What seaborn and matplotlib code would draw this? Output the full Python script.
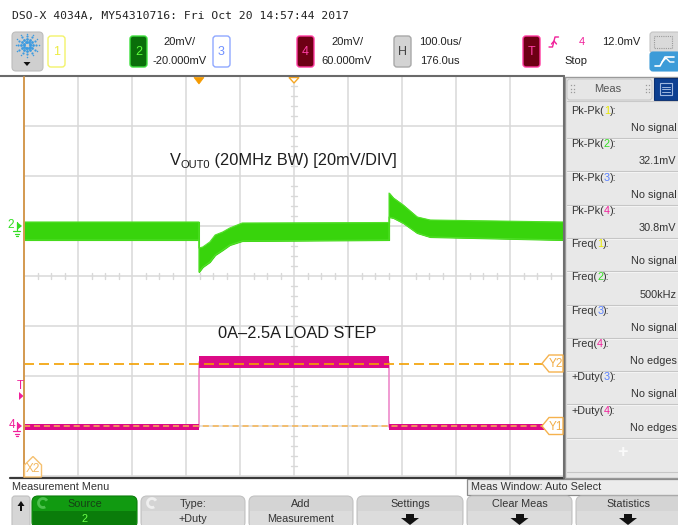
import matplotlib
matplotlib.use("Agg")
import matplotlib.pyplot as plt
from matplotlib.patches import Rectangle, FancyBboxPatch, Polygon, Arc
from matplotlib import font_manager
import numpy as np
import pandas as pd
import seaborn as sns

# ---------------- data ----------------
header_text = "DSO-X 4034A, MY54310716: Fri Oct 20 14:57:44 2017"

time_per_div_us = 100.0
delay_us = 176.0
ch2_scale_mv = 20.0
ch2_offset_mv = -20.0
ch4_scale_mv = 20.0
ch4_offset_mv = 60.0
trigger_level_mv = 12.0
cursor_y1_mv = 0.0
cursor_y2_mv = 25.0

# Channel 2 (VOUT, green) noise-band envelope
ch2_time_us = [-324, 0, 0, 7, 20, 30, 44, 57, 80, 352, 352, 360, 378, 404, 428, 676]
ch2_upper_mv = [1.6, 1.6, -8.8, -8.4, -6.4, -3.6, -2.4, -0.8, 1.2, 1.4, 13.2, 11.2, 8.4, 3.6, 2.4, 1.6]
ch2_lower_mv = [-5.6, -5.6, -18.4, -16.4, -14.4, -11.6, -9.6, -7.6, -6.0, -5.6, 3.6, 3.2, 1.2, -2.8, -4.4, -5.6]

# Channel 4 (load current step, magenta) band envelope
ch4_time_us = [-324, 0, 0, 352, 352, 676]
ch4_upper_mv = [0.8, 0.8, 28.0, 28.0, 0.8, 0.8]
ch4_lower_mv = [-1.6, -1.6, 23.2, 23.2, -1.6, -1.6]

trace_title = "(20MHz BW) [20mV/DIV]"
step_title = "0A\u20132.5A LOAD STEP"

meas_names = ["Pk-Pk", "Pk-Pk", "Pk-Pk", "Pk-Pk", "Freq", "Freq", "Freq", "Freq", "+Duty", "+Duty"]
meas_sources = ["1", "2", "3", "4", "1", "2", "3", "4", "3", "4"]
meas_values = ["No signal", "32.1mV", "No signal", "30.8mV", "No signal", "500kHz",
               "No signal", "No edges", "No signal", "No edges"]

softkey_top = ["Source", "Type:", "Add", "Settings", "Clear Meas", "Statistics"]
softkey_bottom = ["2", "+Duty", "Measurement", "", "", ""]

# ---------------- styling ----------------
sns.set_theme(style="white")
plt.rcParams['font.family'] = ['Liberation Sans', 'DejaVu Sans']
names = {f.name for f in font_manager.fontManager.ttflist}
NARROW = 'Liberation Sans Narrow' if 'Liberation Sans Narrow' in names else 'Liberation Sans'
big_size = 13.5 if NARROW == 'Liberation Sans Narrow' else 11.8

W, H = 678, 525
fig = plt.figure(figsize=(W / 100, H / 100), dpi=100)
fig.patch.set_facecolor('white')


def box(x0, y0, w, h):
    return [x0 / W, 1 - (y0 + h) / H, w / W, h / H]


ui = fig.add_axes([0, 0, 1, 1], zorder=0)
ui.set_xlim(0, W); ui.set_ylim(H, 0); ui.axis('off')
ax2 = fig.add_axes(box(24, 76, 540, 400), zorder=1)
ax4 = fig.add_axes(box(24, 76, 540, 400), zorder=2)
ov = fig.add_axes([0, 0, 1, 1], zorder=3)
ov.set_xlim(0, W); ov.set_ylim(H, 0); ov.axis('off')

xl = (delay_us - 5 * time_per_div_us, delay_us + 5 * time_per_div_us)
for a, off, sc in ((ax2, ch2_offset_mv, ch2_scale_mv), (ax4, ch4_offset_mv, ch4_scale_mv)):
    a.set_xlim(*xl)
    a.set_ylim(off - 4 * sc, off + 4 * sc)
    a.axis('off')
    a.set_facecolor('none')

SC = {'1': '#e8e800', '2': '#33dd22', '3': '#5a80ff', '4': '#f0209a'}
GRID = '#d9d9d9'

# graticule
for k in range(11):
    ax2.axvline(xl[0] + k * time_per_div_us, color=GRID, lw=1.1, zorder=0, clip_on=False)
for j in range(9):
    ax2.axhline(ch2_offset_mv - 4 * ch2_scale_mv + j * ch2_scale_mv, color=GRID, lw=1.1, zorder=0, clip_on=False)
# minor ticks on centre lines
tq = time_per_div_us / 4
for k in range(41):
    if k % 4:
        t = xl[0] + k * tq
        ax2.plot([t, t], [ch2_offset_mv - 1.3, ch2_offset_mv + 1.3], color=GRID, lw=1.0, zorder=0)
vq = ch2_scale_mv / 5
for j in range(-20, 21):
    if j % 5:
        v = ch2_offset_mv + j * vq
        ax2.plot([delay_us - 5.5, delay_us + 5.5], [v, v], color=GRID, lw=1.0, zorder=0)

# channel 4 trace (magenta)
ch4_mid = [(u + l) / 2 for u, l in zip(ch4_upper_mv, ch4_lower_mv)]
sns.lineplot(x=ch4_time_us, y=ch4_mid, ax=ax4, estimator=None, sort=False,
             color='#ec80c6', lw=1.1, zorder=2)
ax4.fill_between(ch4_time_us, ch4_lower_mv, ch4_upper_mv, color='#dc0a86', lw=0, zorder=3)

# channel 2 trace (green)
ax2.fill_between(ch2_time_us, ch2_lower_mv, ch2_upper_mv, color='#38d40c', lw=0.8, zorder=3)
sns.lineplot(x=ch2_time_us, y=ch2_upper_mv, ax=ax2, estimator=None, sort=False, color='#52e02a', lw=0.8, zorder=3)
sns.lineplot(x=ch2_time_us, y=ch2_lower_mv, ax=ax2, estimator=None, sort=False, color='#52e02a', lw=0.8, zorder=3)

# cursors
ax4.axhline(cursor_y2_mv, color='#f2a000', lw=1.2, ls=(0, (6, 3)), zorder=5)
ax4.axhline(cursor_y1_mv, color='#f8b450', lw=1.1, ls=(0, (4, 2.5)), zorder=5)


def ypix(a, v):
    return H - a.transData.transform((xl[0], v))[1]


def xpix(a, t):
    return a.transData.transform((t, 0))[0]


# frame lines
ov.plot([0, 563.5], [76, 76], color='#6a6a6a', lw=1.5)
ov.plot([10, 563.5], [477.5, 477.5], color='#3a3a3a', lw=1.6)
ov.plot([563.5, 563.5], [76, 478], color='#707070', lw=1.5)
ov.plot([24, 24], [77, 477], color='#d49a50', lw=1.4)

# top time markers
tx = xpix(ax2, 0)
ov.add_patch(Polygon([(tx - 5, 77.5), (tx + 5, 77.5), (tx, 84)], closed=True, fc='#f59a00', ec='#f59a00', lw=0.5))
cx = xpix(ax2, delay_us)
ov.add_patch(Polygon([(cx - 5, 77.5), (cx + 5, 77.5), (cx, 83)], closed=True, fc='white', ec='#f5a623', lw=1.0))

# left channel markers
y2g = ypix(ax2, 0)
ov.text(11, y2g - 1, "2", color=SC['2'], fontsize=8.5, ha='center', va='center')
ov.add_patch(Polygon([(17, y2g - 4), (22, y2g), (17, y2g + 4)], closed=True, fc=SC['2'], ec='none'))
ov.plot([16.5, 16.5], [y2g - 4, y2g + 4], color=SC['2'], lw=0.9)
ov.plot([13, 20], [y2g + 5, y2g + 5], color=SC['2'], lw=0.9)
ov.plot([14.5, 18.5], [y2g + 7.5, y2g + 7.5], color=SC['2'], lw=0.9)
ov.plot([15.5, 17.5], [y2g + 10, y2g + 10], color=SC['2'], lw=0.9)

yt = ypix(ax4, trigger_level_mv)
ov.text(20, yt - 10, "T", color=SC['4'], fontsize=8.5, ha='center', va='center')
ov.add_patch(Polygon([(19, yt - 4), (23.5, yt), (19, yt + 4)], closed=True, fc=SC['4'], ec='none'))

y4g = ypix(ax4, 0)
ov.text(12, y4g - 1, "4", color=SC['4'], fontsize=8.5, ha='center', va='center')
ov.add_patch(Polygon([(17, y4g - 4), (22, y4g), (17, y4g + 4)], closed=True, fc=SC['4'], ec='none'))
ov.plot([16.5, 16.5], [y4g - 4, y4g + 4], color=SC['4'], lw=0.9)
ov.plot([13, 20], [y4g + 5, y4g + 5], color=SC['4'], lw=0.9)
ov.plot([14.5, 18.5], [y4g + 7.5, y4g + 7.5], color=SC['4'], lw=0.9)
ov.plot([15.5, 17.5], [y4g + 10, y4g + 10], color=SC['4'], lw=0.9)

# cursor tags
for val, lab in ((cursor_y2_mv, "Y2"), (cursor_y1_mv, "Y1")):
    yy = ypix(ax4, val)
    ov.add_patch(Polygon([(542, yy), (549, yy - 8.5), (563, yy - 8.5), (563, yy + 8.5), (549, yy + 8.5)],
                         closed=True, fc='white', ec='#f5b24e', lw=1.0, zorder=6))
    ov.text(556, yy + 0.5, lab, color='#f2ae48', fontsize=8.5, ha='center', va='center', zorder=7)
ov.add_patch(Polygon([(24.5, 465), (33, 456.5), (41.5, 465), (41.5, 477), (24.5, 477)],
                     closed=True, fc='white', ec='#f5c070', lw=1.0, zorder=6))
ov.text(33, 469.5, "X2", color='#f2b860', fontsize=8.5, ha='center', va='center', zorder=7)

renderer = fig.canvas.get_renderer()


def seq_text(a, x, y, parts, **kw):
    for s, c, size, dy in parts:
        t = a.text(x, y + dy, s, color=c, fontsize=size, **kw)
        x += t.get_window_extent(renderer).width
    return x


# annotations inside the screen
seq_text(ov, 170, 165, [("V", '#1e1e1e', big_size, 0), ("OUT0", '#1e1e1e', big_size * 0.68, 3),
                        (" " + trace_title, '#1e1e1e', big_size, 0)],
         family=[NARROW, 'DejaVu Sans'], va='baseline', ha='left')
ov.text(218, 338, step_title, color='#1e1e1e', fontsize=big_size, family=[NARROW, 'DejaVu Sans'],
        va='baseline', ha='left')

# ---------------- header ----------------
ui.text(12, 15.5, header_text, family=['DejaVu Sans Mono'], fontsize=8.2, color='#222', va='center', ha='left')

ui.add_patch(FancyBboxPatch((12, 32), 31, 39, boxstyle="round,pad=0,rounding_size=4", fc='#cfcfcf', ec='#bdbdbd', lw=0.8))
for ang in range(0, 360, 30):
    r = np.deg2rad(ang)
    for rad, s in ((3.0, 2.0), (6.0, 2.0), (9.0, 1.6), (11.5, 1.1)):
        ui.plot(27 + rad * np.cos(r), 45 + rad * np.sin(r), 'o', ms=s, color='#3d9be0', mec='none')
ui.add_patch(Polygon([(23.5, 62), (30.5, 62), (27, 66)], closed=True, fc='#111', ec='none'))

chan_boxes = [(48, 'white', '#f3f36a', '1', '#ecec40'),
              (130, '#0a6e0a', '#3fe03f', '2', '#5cff3c'),
              (213, 'white', '#8fa8ff', '3', '#6f8fff'),
              (297, '#6e0014', '#ff3aa0', '4', '#ff40a8'),
              (394, '#d3d3d3', '#a8a8a8', 'H', '#444444'),
              (523, '#6e0014', '#ff3aa0', 'T', '#ff40a8')]
for x0, fc, ec, lab, tc in chan_boxes:
    ui.add_patch(FancyBboxPatch((x0, 36), 17, 31, boxstyle="round,pad=0,rounding_size=3", fc=fc, ec=ec, lw=1.0))
    ui.text(x0 + 8.5, 52, lab, color=tc, fontsize=9, ha='center', va='center')

TXT = '#222222'
ui.text(180, 42, "20mV/", color=TXT, fontsize=8, ha='center', va='center')
ui.text(180, 61, "-20.000mV", color=TXT, fontsize=8, ha='center', va='center')
ui.text(347, 42, "20mV/", color=TXT, fontsize=8, ha='center', va='center')
ui.text(347, 61, "60.000mV", color=TXT, fontsize=8, ha='center', va='center')
ui.text(440, 42, "100.0us/", color=TXT, fontsize=8, ha='center', va='center')
ui.text(440, 61, "176.0us", color=TXT, fontsize=8, ha='center', va='center')
# trigger edge symbol
ui.plot([549, 552.5, 555, 558.5], [47, 47, 37, 37], color=SC['4'], lw=1.0)
ui.plot([551.5, 554, 556.5], [44, 41, 44], color=SC['4'], lw=1.0)
ui.text(582, 42, "4", color=SC['4'], fontsize=8, ha='center', va='center')
ui.text(621, 42, "12.0mV", color=TXT, fontsize=8, ha='center', va='center')
ui.text(576, 61, "Stop", color=TXT, fontsize=8, ha='center', va='center')
ui.add_patch(FancyBboxPatch((650, 32), 30, 21, boxstyle="round,pad=0,rounding_size=3", fc='#dadada', ec='#c4c4c4', lw=0.8))
ui.add_patch(Rectangle((654, 35.5), 18, 12, fc='none', ec='#9a9a9a', lw=0.8, ls=(0, (1, 1))))
ui.add_patch(FancyBboxPatch((650, 52), 30, 19, boxstyle="round,pad=0,rounding_size=3", fc='#3c9bd8', ec='#3c9bd8', lw=0.8))
ui.plot([655, 660, 665, 668, 674], [66, 66, 57, 57, 57], color='white', lw=1.2)
ui.plot([662, 666, 670, 674], [62, 58, 62, 62], color='white', lw=1.0)

# ---------------- measurement panel ----------------
ui.add_patch(Rectangle((565, 77), 114, 401, fc='#e8e8e8', ec='#9a9a9a', lw=1.0))
ui.add_patch(FancyBboxPatch((567, 79), 85, 21, boxstyle="round,pad=0,rounding_size=3", fc='#e6e6e6', ec='#c8c8c8', lw=0.8))
ui.text(608, 89.5, "Meas", color='#555555', fontsize=8, ha='center', va='center')
for gx in (571, 646):
    for gy in (85, 88.5, 92):
        for dx in (0, 2.5):
            ui.plot(gx + dx, gy, 's', ms=0.9, color='#9a9a9a', mec='none')
ui.add_patch(Rectangle((654, 78), 24, 22, fc='#0c3f91', ec='#0a2f70', lw=0.8))
ui.add_patch(Rectangle((660, 83), 12, 12, fc='none', ec='#9fb8e0', lw=0.8))
for yy in (86.5, 89, 91.5):
    ui.plot([662, 670], [yy, yy], color='#9fb8e0', lw=0.7)
ui.plot([567, 678], [101, 101], color='#c9c9c9', lw=0.8)

ROW = 33.3
for i, (nm, src, val) in enumerate(zip(meas_names, meas_sources, meas_values)):
    yl = 111 + i * ROW
    seq_text(ui, 571, yl, [(nm + "(", '#333333', 7.8, 0), (src, SC[src], 7.8, 0), ("):", '#333333', 7.8, 0)],
             va='center', ha='left')
    ui.text(676.5, yl + 17, val, color='#333333', fontsize=7.8, ha='right', va='center')
    ui.plot([567, 678], [yl + 27, yl + 27], color='#c6c6c6', lw=0.8)
    ui.plot([567, 678], [yl + 28, yl + 28], color='#f6f6f6', lw=0.6)
ui.text(623, 453, "+", color='#fafafa', fontsize=13, ha='center', va='center', fontweight='bold')
ui.plot([567, 678], [472, 472], color='#c6c6c6', lw=0.8)

# ---------------- bottom menu ----------------
ui.text(12, 487, "Measurement Menu", color='#333333', fontsize=7.8, ha='left', va='center')
ui.add_patch(Rectangle((467, 479), 213, 16, fc='#ececec', ec='#8c8c8c', lw=0.9))
ui.text(471, 487.5, "Meas Window: Auto Select", color='#333333', fontsize=7.8, ha='left', va='center')

ui.add_patch(FancyBboxPatch((12, 496), 18, 32, boxstyle="round,pad=0,rounding_size=3", fc='#d6d6d6', ec='#c0c0c0', lw=0.8))
ui.add_patch(Polygon([(17.5, 506), (21, 501), (24.5, 506)], closed=True, fc='#111', ec='none'))
ui.add_patch(Rectangle((19.8, 505.5), 2.4, 5, fc='#111', ec='none'))

key_x = [(32, 137), (141, 245), (249, 353), (357, 463), (467, 572), (576, 690)]
for (x0, x1), top, bot in zip(key_x, softkey_top, softkey_bottom):
    green = top == "Source"
    fc = '#119a11' if green else '#d4d4d4'
    ec = '#0b7d0b' if green else '#c2c2c2'
    ui.add_patch(FancyBboxPatch((x0, 496), x1 - x0, 32, boxstyle="round,pad=0,rounding_size=6", fc=fc, ec=ec, lw=0.8))
    ui.add_patch(Rectangle((x0 + 1, 511), x1 - x0 - 2, 15, fc='#0a7c0a' if green else '#dcdcdc', ec='none'))
    xc = (x0 + x1) / 2 if x1 <= 678 else (x0 + x1 - 10) / 2
    ui.text(xc, 504, top, color='#153f15' if green else '#333333', fontsize=7.8, ha='center', va='center')
    if bot:
        ui.text(xc, 519, bot, color='#6dff4a' if green else '#333333', fontsize=7.8, ha='center', va='center')
    else:
        ui.add_patch(Rectangle((xc - 4, 514), 8, 4.5, fc='#111', ec='none'))
        ui.add_patch(Polygon([(xc - 9, 518), (xc + 9, 518), (xc, 525)], closed=True, fc='#111', ec='none'))
    if top in ("Source", "Type:"):
        ui.add_patch(Arc((x0 + 11, 503), 9, 9, theta1=60, theta2=330, color='#4ec04e' if green else '#efefef', lw=2.0))

fig.savefig("out.png", dpi=100, facecolor='white')
